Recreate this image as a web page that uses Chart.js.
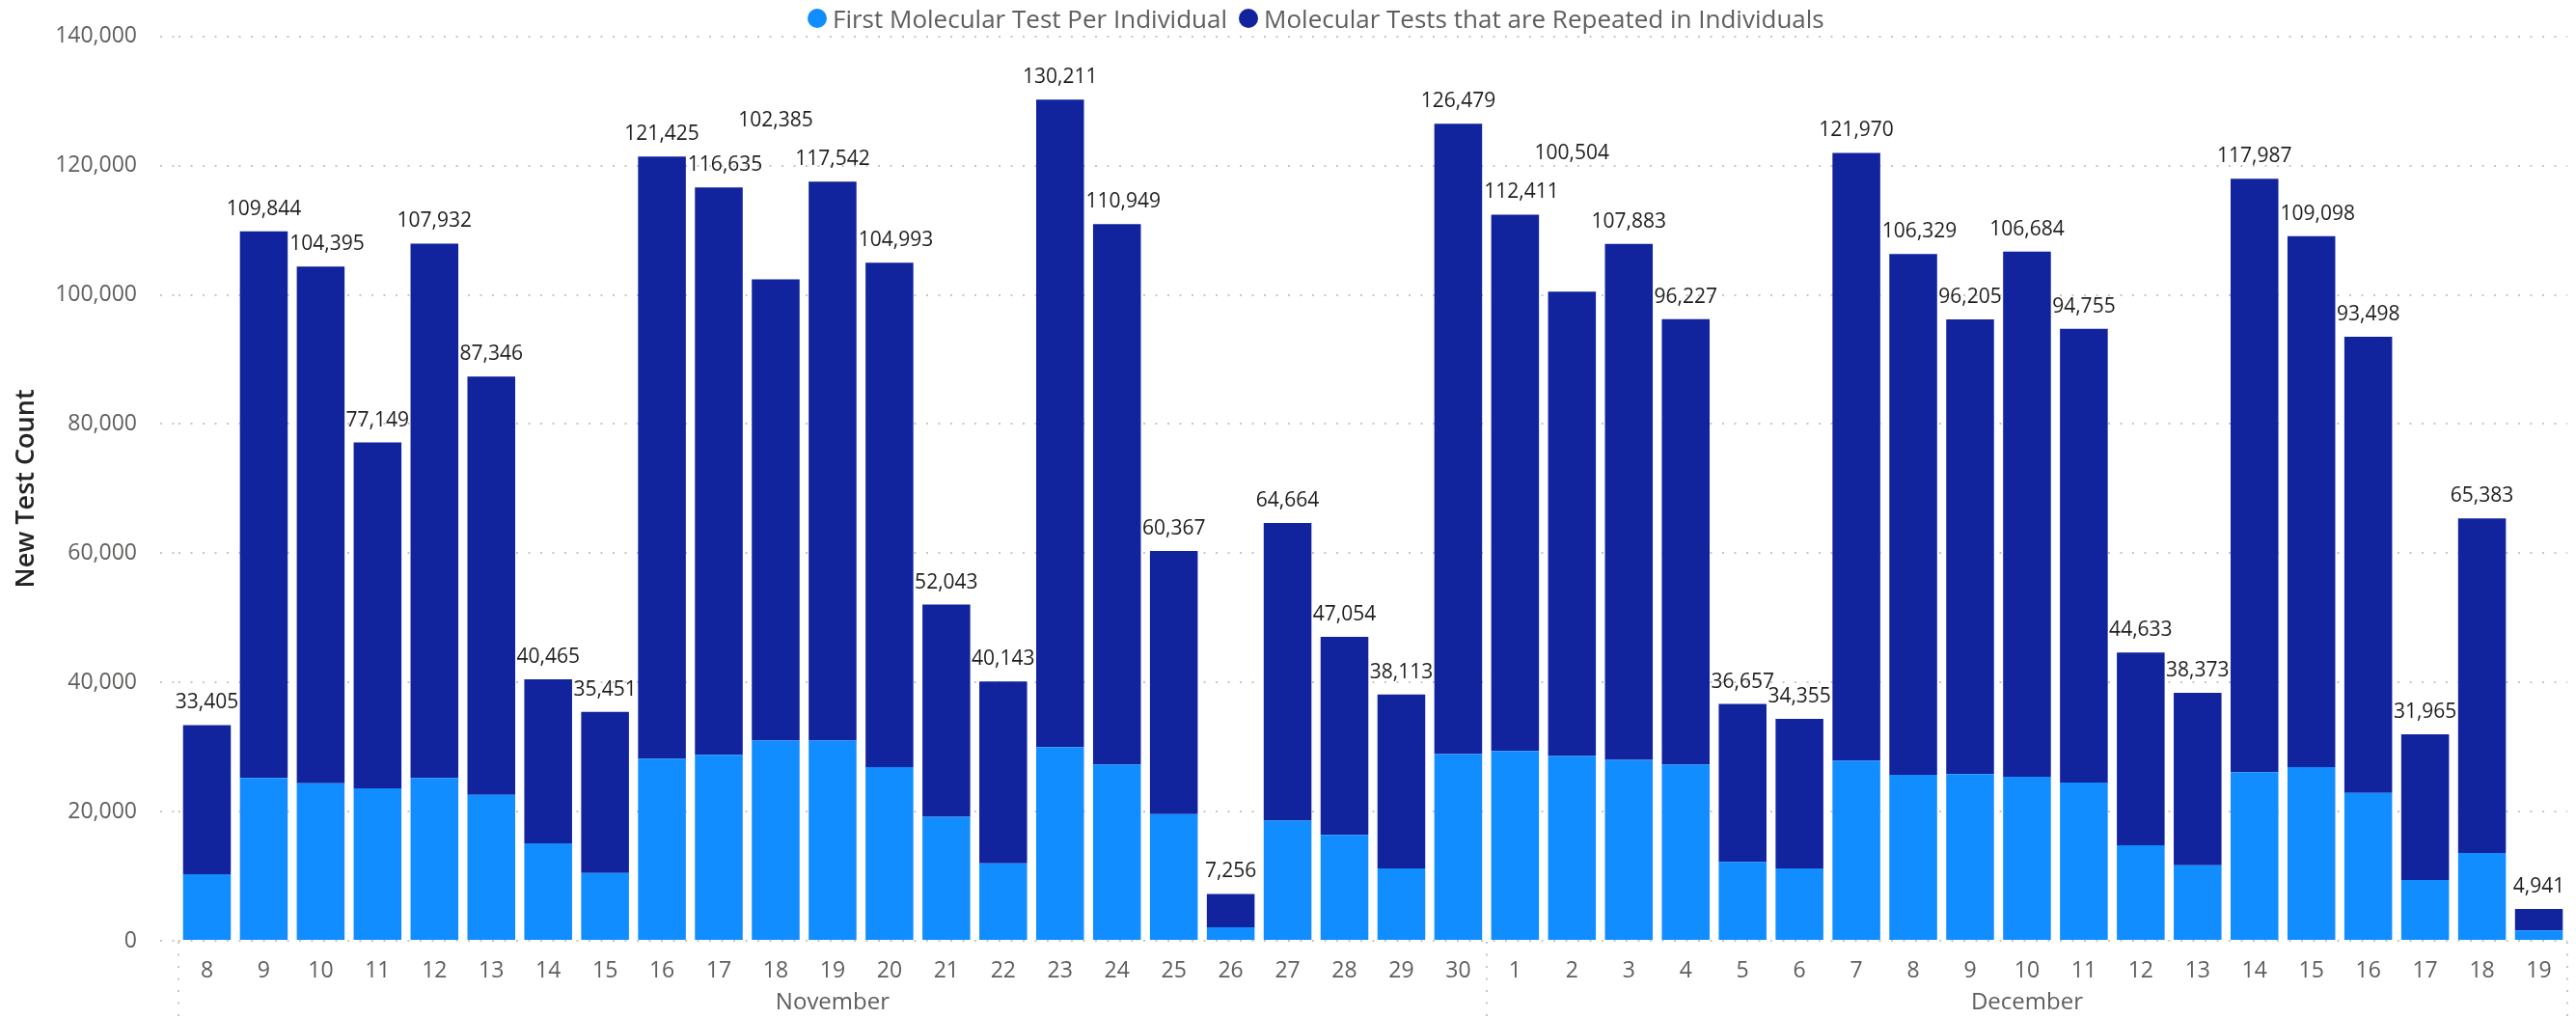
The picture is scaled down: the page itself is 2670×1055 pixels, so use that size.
<!DOCTYPE html>
<html>
<head>
<meta charset="utf-8">
<title>New Test Count</title>
<script src="https://cdn.jsdelivr.net/npm/chart.js@4.4.1/dist/chart.umd.min.js"></script>
<style>
  html, body { margin: 0; padding: 0; background: #ffffff; }
  #wrap { position: relative; width: 2670px; height: 1055px; }
  #legend {
    position: absolute; left: 837px; top: 0; height: 38px;
    display: flex; align-items: center; white-space: nowrap;
    font-family: "Segoe UI", "Open Sans", sans-serif; font-size: 26px; color: #605E5C;
  }
  .item { display: flex; align-items: center; margin-right: 12px; }
  .dot { width: 20px; height: 20px; border-radius: 50%; margin-right: 6px; }
</style>
</head>
<body>
<div id="wrap">
  <canvas id="myChart" width="2670" height="1055"></canvas>
  <div id="legend"></div>
</div>
<script>
//DATOS
const novemberDays = ['8','9','10','11','12','13','14','15','16','17','18','19','20','21','22','23','24','25','26','27','28','29','30'];
const decemberDays = ['1','2','3','4','5','6','7','8','9','10','11','12','13','14','15','16','17','18','19'];
const monthNames = ['November', 'December'];

const seriesNames = ['First Molecular Test Per Individual', 'Molecular Tests that are Repeated in Individuals'];

const firstTest = [
  10300, 25200, 24400, 23600, 25200, 22600, 15100, 10500, 28200, 28800, 31000, 31000,
  26900, 19200, 12000, 30000, 27300, 19600, 2100, 18600, 16400, 11200, 28900,
  29400, 28600, 28000, 27300, 12200, 11200, 27900, 25700, 25800, 25400, 24500,
  14800, 11700, 26100, 26900, 22900, 9400, 13600, 1600
];
const repeatedTest = [
  23105, 84644, 79995, 53549, 82732, 64746, 25365, 24951, 93225, 87835, 71385, 86542,
  78093, 32843, 28143, 100211, 83649, 40767, 5156, 46064, 30654, 26913, 97579,
  83011, 71904, 79883, 68927, 24457, 23155, 94070, 80629, 70405, 81284, 70255,
  29833, 26673, 91887, 82198, 70598, 22565, 51783, 3341
];
const yTicks = [0, 20000, 40000, 60000, 80000, 100000, 120000, 140000];

const colores = ['#118DFF', '#12239E'];
const fuente = '"Segoe UI", "Open Sans", sans-serif';
const gris = '#605E5C';
const rejilla = '#C8C6C4';

const categories = novemberDays.concat(decemberDays);
const monthSizes = [novemberDays.length, decemberDays.length];

//LEYENDA
const legend = document.getElementById('legend');
seriesNames.forEach((name, i) => {
  legend.innerHTML += `<span class="item"><span class="dot" style="background:${colores[i]}"></span>${name}</span>`;
});

//PLUGINS
const totalsPlugin = {
  id: 'totalsPlugin',
  afterDatasetsDraw(chart) {
    const ctx = chart.ctx;
    const bars = chart.getDatasetMeta(1).data;
    ctx.save();
    ctx.font = '21px ' + fuente;
    ctx.fillStyle = '#201F1E';
    ctx.textAlign = 'center';
    ctx.textBaseline = 'middle';
    const boxes = bars.map((bar, i) => {
      const text = (firstTest[i] + repeatedTest[i]).toLocaleString('en-US');
      return { text, w: ctx.measureText(text).width, x: bar.x, y: bar.y - 23 };
    });
    // label wider than the slot: slide away from one taller neighbour, climb over two
    boxes.forEach((b, i) => {
      b.hits = [i - 1, i + 1].filter(j => bars[j] && bars[j].y < b.y + 12 &&
        Math.abs(bars[j].x - b.x) - bars[j].width / 2 < b.w / 2);
      if (b.hits.length === 1) {
        const n = bars[b.hits[0]];
        b.x = n.x < b.x ? n.x + n.width / 2 + 2 + b.w / 2 : n.x - n.width / 2 - 2 - b.w / 2;
      }
    });
    boxes.forEach((b, i) => {
      if (b.hits.length === 2) b.y = Math.min(boxes[i - 1].y, boxes[i + 1].y) - 40;
    });
    boxes.forEach(b => ctx.fillText(b.text, b.x, b.y));
    ctx.restore();
  }
};

const monthPlugin = {
  id: 'monthPlugin',
  afterDraw(chart) {
    const { ctx, chartArea } = chart;
    const x = chart.scales.x;
    const step = x.getPixelForValue(1) - x.getPixelForValue(0);
    ctx.save();
    ctx.strokeStyle = rejilla;
    ctx.lineWidth = 2;
    ctx.setLineDash([2, 10.5]);
    ctx.fillStyle = gris;
    ctx.font = '24px ' + fuente;
    ctx.textAlign = 'center';
    ctx.textBaseline = 'middle';
    let start = 0;
    const edges = [];
    monthNames.forEach((m, k) => {
      const left = x.getPixelForValue(start) - step / 2;
      const right = x.getPixelForValue(start + monthSizes[k] - 1) + step / 2;
      edges.push(left, right);
      ctx.fillText(m, (left + right) / 2, 1039);
      start += monthSizes[k];
    });
    [...new Set(edges.map(Math.round))].forEach(px => {
      ctx.beginPath();
      ctx.moveTo(px, chartArea.bottom + 1);
      ctx.lineTo(px, chart.height);
      ctx.stroke();
    });
    ctx.restore();
  }
};

//GRAFICO
const ctx = document.getElementById('myChart');

new Chart(ctx, {
  type: 'bar',
  data: {
    labels: categories,
    datasets: [{
      label: seriesNames[0],
      data: firstTest,
      backgroundColor: colores[0],
      barPercentage: 0.84,
      categoryPercentage: 1
    }, {
      label: seriesNames[1],
      data: repeatedTest,
      backgroundColor: colores[1],
      barPercentage: 0.84,
      categoryPercentage: 1
    }]
  },
  options: {
    responsive: false,
    animation: false,
    devicePixelRatio: 1,
    layout: { padding: { top: 29, right: 9, bottom: 0, left: 0 } },
    plugins: {
      legend: { display: false },
      tooltip: { enabled: false }
    },
    scales: {
      x: {
        stacked: true,
        grid: { display: false },
        border: { display: false },
        ticks: {
          color: gris,
          font: { family: fuente, size: 23 },
          padding: 10,
          maxRotation: 0,
          autoSkip: false
        },
        afterFit: (scale) => { scale.height = 80; }
      },
      y: {
        stacked: true,
        min: 0,
        max: 140000,
        afterBuildTicks: (scale) => { scale.ticks = yTicks.map(v => ({ value: v })); },
        afterFit: (scale) => { scale.width = 185; },
        grid: {
          color: rejilla,
          lineWidth: 2,
          drawTicks: true,
          tickLength: 19,
          tickBorderDash: [2, 10.5]
        },
        border: { display: false, dash: [2, 10.5] },
        ticks: {
          color: gris,
          font: { family: fuente, size: 23 },
          padding: 24,
          callback: (v) => v.toLocaleString('en-US')
        },
        title: {
          display: true,
          text: 'New Test Count',
          color: '#252423',
          font: { family: fuente, size: 27, weight: '600' },
          padding: { top: 11, bottom: 0 }
        }
      }
    }
  },
  plugins: [totalsPlugin, monthPlugin]
});
</script>
</body>
</html>
